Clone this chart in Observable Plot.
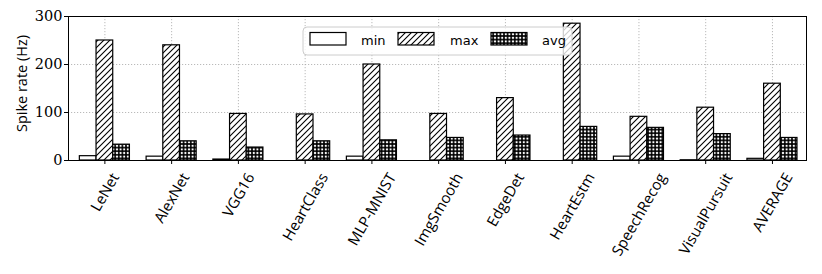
<!DOCTYPE html>
<html>
<head>
<meta charset="utf-8">
<script src="https://cdn.jsdelivr.net/npm/d3@7"></script>
<script src="https://cdn.jsdelivr.net/npm/@observablehq/plot@0.6"></script>
<style>
  html, body { margin: 0; padding: 0; background: #fff; }
  #chart { position: relative; width: 822px; height: 274px; }
</style>
</head>
<body>
<div id="chart"></div>
<script>
const categories = ["LeNet", "AlexNet", "VGG16", "HeartClass", "MLP-MNIST", "ImgSmooth", "EdgeDet", "HeartEstm", "SpeechRecog", "VisualPursuit", "AVERAGE"];
const minValues = [9, 8, 2, 0, 8, 0, 0, 0, 8, 0.5, 3.5];
const maxValues = [250, 240, 97, 96, 200, 97, 130, 285, 91, 110, 160];
const avgValues = [33, 40, 27, 40, 42, 47, 52, 70, 68, 55, 47];
const seriesNames = ["min", "max", "avg"];
const yTicks = [0, 100, 200, 300];
const yLabel = "Spike rate (Hz)";

const seriesFill = { min: "white", max: "url(#hatchMax)", avg: "url(#hatchAvg)" };
const seriesOffset = { min: -0.25, max: 0, avg: 0.25 };
const barWidth = 0.25;

const rows = [];
categories.forEach((c, i) => {
  rows.push({ i, series: "min", value: minValues[i] });
  rows.push({ i, series: "max", value: maxValues[i] });
  rows.push({ i, series: "avg", value: avgValues[i] });
});
const idx = categories.map((_, i) => i);

// measure label widths to center rotated labels like matplotlib (ha=center)
const labelSize = 15;
const ctx = document.createElement("canvas").getContext("2d");
ctx.font = `${labelSize}px 'Open Sans'`;
const capH = 10.8;

const labelMarks = categories.map((c, i) => {
  const L = ctx.measureText(c).width;
  return Plot.text([c], {
    x: () => i,
    frameAnchor: "bottom",
    text: d => d,
    rotate: -60,
    textAnchor: "end",
    lineAnchor: "top",
    dx: 0.25 * L - 0.433 * capH,
    dy: 11,
    fontFamily: "'Open Sans', sans-serif",
    fontSize: labelSize,
    fill: "black"
  });
});

const gridStyle = { stroke: "#a8a8a8", strokeOpacity: 1, strokeWidth: 0.8, strokeDasharray: "1.2,1.8" };

const plot = Plot.plot({
  width: 822,
  height: 274,
  marginLeft: 68,
  marginRight: 16,
  marginTop: 16,
  marginBottom: 114,
  x: { type: "linear", domain: [-0.545, 10.51] },
  y: { domain: [0, 300] },
  style: { background: "white", overflow: "visible" },
  marks: [
    Plot.gridY({ ticks: [100, 200], ...gridStyle }),
    Plot.gridX({ ticks: idx, ...gridStyle }),
    Plot.rect(rows, {
      x1: d => d.i + seriesOffset[d.series] - barWidth / 2,
      x2: d => d.i + seriesOffset[d.series] + barWidth / 2,
      y1: 0,
      y2: d => d.value,
      fill: d => seriesFill[d.series],
      stroke: "black",
      strokeWidth: 1.2
    }),
    Plot.frame({ stroke: "black", strokeWidth: 1 }),
    Plot.axisY({
      ticks: yTicks,
      tickSize: 4,
      tickPadding: 2,
      label: null,
      fontFamily: "'DejaVu Serif', serif",
      fontSize: 14.5,
      fill: "black",
      stroke: "black"
    }),
    Plot.axisX({
      ticks: idx,
      tickSize: 4,
      tickFormat: () => "",
      label: null,
      stroke: "black"
    }),
    ...labelMarks,
    Plot.text([yLabel], {
      frameAnchor: "left",
      text: d => d,
      rotate: -90,
      textAnchor: "middle",
      lineAnchor: "middle",
      dx: -46,
      dy: -5,
      fontFamily: "'Open Sans', sans-serif",
      fontSize: 14.5,
      fill: "black"
    })
  ]
});

// patterns
const NS = "http://www.w3.org/2000/svg";
const defs = document.createElementNS(NS, "defs");
defs.innerHTML = `
  <pattern id="hatchMax" patternUnits="userSpaceOnUse" width="6" height="6">
    <rect width="6" height="6" fill="white"/>
    <path d="M-1,7 L7,-1 M-4,4 L4,-4 M2,10 L10,2" stroke="black" stroke-width="1.1"/>
  </pattern>
  <pattern id="hatchAvg" patternUnits="userSpaceOnUse" width="3.6" height="3.6">
    <rect width="3.6" height="3.6" fill="black"/>
    <circle cx="1.8" cy="1.8" r="1.15" fill="white"/>
  </pattern>`;
plot.insertBefore(defs, plot.firstChild);

// legend (drawn inside the plot area, top center)
const lg = document.createElementNS(NS, "g");
lg.setAttribute("font-family", "'DejaVu Sans', sans-serif");
lg.setAttribute("font-size", "13");
lg.setAttribute("text-anchor", "start");
let html = `<rect x="303" y="27" width="269" height="28" rx="4" fill="white" fill-opacity="0.8" stroke="#cccccc" stroke-width="1"/>`;
const swX = [310, 398, 491];
const txX = [361, 450, 542];
seriesNames.forEach((s, k) => {
  html += `<rect x="${swX[k]}" y="32.5" width="36" height="12.5" fill="${seriesFill[s]}" stroke="black" stroke-width="1.2"/>`;
  html += `<text x="${txX[k]}" y="45" fill="black" text-anchor="start">${s}</text>`;
});
lg.innerHTML = html;
plot.appendChild(lg);

document.getElementById("chart").appendChild(plot);
</script>
</body>
</html>
